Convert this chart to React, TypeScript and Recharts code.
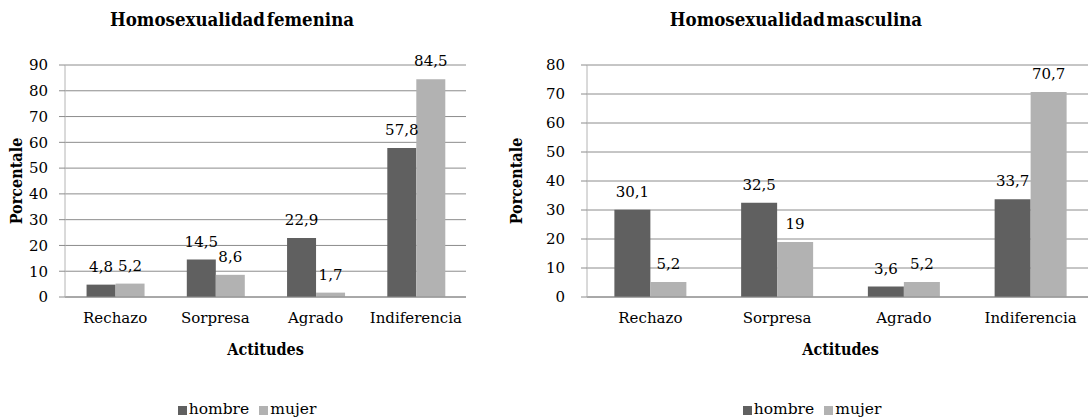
import React from "react";
import { BarChart, Bar, XAxis, YAxis, CartesianGrid, LabelList } from "recharts";

const categories = ["Rechazo", "Sorpresa", "Agrado", "Indiferencia"];
const femHombre = [4.8, 14.5, 22.9, 57.8];
const femMujer = [5.2, 8.6, 1.7, 84.5];
const mascHombre = [30.1, 32.5, 3.6, 33.7];
const mascMujer = [5.2, 19, 5.2, 70.7];
const femTicks = [0, 10, 20, 30, 40, 50, 60, 70, 80, 90];
const mascTicks = [0, 10, 20, 30, 40, 50, 60, 70, 80];
const seriesNames = ["hombre", "mujer"];
const seriesColors = ["#606060", "#b2b2b2"];

const FONT = "DejaVu Serif";
const FONT_BOLD = "DejaVu Serif Condensed";
const fmt = (v: number) => String(v).replace(".", ",");

type PanelProps = {
  hombre: number[];
  mujer: number[];
  ticks: number[];
  left: number;
  width: number;
  marginRight: number;
  axisWidth: number;
  tickMargin: number;
  gap: string;
};

function Panel({ hombre, mujer, ticks, left, width, marginRight, axisWidth, tickMargin, gap }: PanelProps) {
  const data = categories.map((c, i) => ({ cat: c, hombre: hombre[i], mujer: mujer[i] }));
  return (
    <div style={{ position: "absolute", left, top: 0 }}>
      <BarChart
        width={width}
        height={420}
        data={data}
        margin={{ top: 65, right: marginRight, left: 0, bottom: 63 }}
        barCategoryGap={gap}
        barGap={0}
      >
        <CartesianGrid vertical={false} stroke="#8c8c8c" />
        <XAxis
          dataKey="cat"
          height={60}
          tickLine={false}
          axisLine={{ stroke: "#8c8c8c" }}
          tickMargin={9}
          tick={{ fill: "#000", fontSize: 15, fontFamily: FONT }}
          label={{
            content: (p: any) => (
              <text
                x={p.viewBox.x + p.viewBox.width / 2}
                y={p.viewBox.y + 58}
                textAnchor="middle"
                fontFamily={FONT_BOLD}
                fontWeight="bold"
                fontSize={16}
              >
                Actitudes
              </text>
            ),
          }}
        />
        <YAxis
          width={axisWidth}
          domain={[0, ticks[ticks.length - 1]]}
          ticks={ticks}
          interval={0}
          tickSize={6}
          tickMargin={tickMargin}
          tickLine={{ stroke: "#8c8c8c" }}
          axisLine={{ stroke: "#b4b4b4" }}
          tick={{ fill: "#000", fontSize: 15, fontFamily: FONT }}
          label={{
            content: (p: any) => {
              const x = p.viewBox.x + 22;
              const y = p.viewBox.y + p.viewBox.height / 2;
              return (
                <text
                  x={x}
                  y={y}
                  transform={`rotate(-90 ${x} ${y})`}
                  textAnchor="middle"
                  fontFamily={FONT_BOLD}
                  fontWeight="bold"
                  fontSize={16}
                >
                  Porcentale
                </text>
              );
            },
          }}
        />
        <Bar dataKey="hombre" fill={seriesColors[0]} isAnimationActive={false}>
          <LabelList dataKey="hombre" position="top" offset={13} formatter={fmt} fill="#000" fontSize={15} fontFamily={FONT} />
        </Bar>
        <Bar dataKey="mujer" fill={seriesColors[1]} isAnimationActive={false}>
          <LabelList dataKey="mujer" position="top" offset={13} formatter={fmt} fill="#000" fontSize={15} fontFamily={FONT} />
        </Bar>
      </BarChart>
    </div>
  );
}

function Title({ text, cx }: { text: string; cx: number }) {
  return (
    <div
      style={{
        position: "absolute",
        left: cx - 200,
        width: 400,
        top: 8,
        textAlign: "center",
        fontFamily: FONT_BOLD,
        fontWeight: "bold",
        fontSize: 18.5,
        wordSpacing: "-4px",
        lineHeight: "24px",
      }}
    >
      {text}
    </div>
  );
}

function LegendBox({ cx }: { cx: number }) {
  return (
    <div
      style={{
        position: "absolute",
        left: cx - 150,
        width: 300,
        top: 399,
        display: "flex",
        justifyContent: "center",
        fontSize: 15.5,
        lineHeight: "20px",
      }}
    >
      {seriesNames.map((n, i) => (
        <span key={n} style={{ display: "flex", alignItems: "center", marginRight: i === 0 ? 10 : 0 }}>
          <span style={{ width: 9, height: 9, background: seriesColors[i], display: "inline-block", marginRight: 2, marginTop: 2 }} />
          {n}
        </span>
      ))}
    </div>
  );
}

export default function App() {
  return (
    <div
      style={{
        position: "absolute",
        left: 0,
        top: 0,
        width: 1088,
        height: 420,
        overflow: "hidden",
        background: "#fff",
        fontFamily: FONT,
        color: "#000",
      }}
    >
      <Panel
        hombre={femHombre}
        mujer={femMujer}
        ticks={femTicks}
        left={0}
        width={544}
        marginRight={78}
        axisWidth={65}
        tickMargin={11}
        gap="21.5%"
      />
      <Panel
        hombre={mascHombre}
        mujer={mascMujer}
        ticks={mascTicks}
        left={500}
        width={600}
        marginRight={6}
        axisWidth={87}
        tickMargin={16}
        gap="21.6%"
      />
      <Title text="Homosexualidad femenina" cx={232} />
      <Title text="Homosexualidad masculina" cx={796} />
      <LegendBox cx={247} />
      <LegendBox cx={812} />
    </div>
  );
}
